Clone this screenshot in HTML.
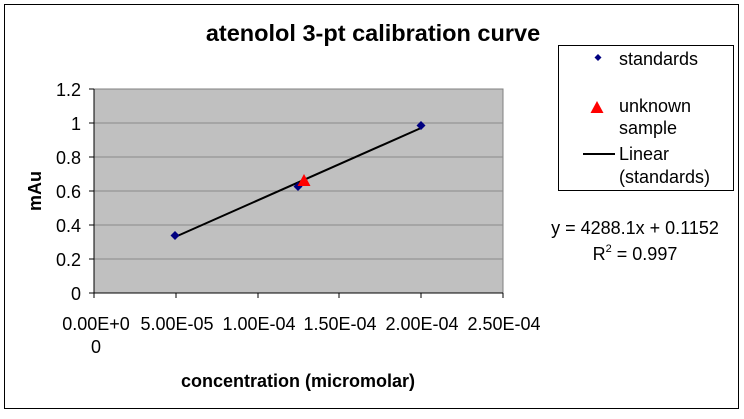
<!DOCTYPE html><html><head><style>body{margin:0;background:#fff;width:744px;height:414px;overflow:hidden}</style></head><body>
<svg width="744" height="414" xmlns="http://www.w3.org/2000/svg" font-family="Liberation Sans, sans-serif">
<rect x="0" y="0" width="744" height="414" fill="#fff"/>
<rect x="4.5" y="4.5" width="734" height="404" fill="none" stroke="#000" stroke-width="1"/>
<text x="373" y="41" font-size="23.5" font-weight="bold" text-anchor="middle">atenolol 3-pt calibration curve</text>
<rect x="94" y="89" width="409" height="204" fill="#c0c0c0" stroke="#808080"/>
<g stroke="#8a8a8a" stroke-width="1">
<line x1="94" y1="123" x2="503" y2="123"/><line x1="94" y1="157" x2="503" y2="157"/><line x1="94" y1="191" x2="503" y2="191"/><line x1="94" y1="225" x2="503" y2="225"/><line x1="94" y1="259" x2="503" y2="259"/></g>
<g stroke="#000"><line x1="94" y1="89" x2="94" y2="293"/><line x1="94" y1="293" x2="503" y2="293"/>
<line x1="89" y1="89" x2="94" y2="89"/><line x1="89" y1="123" x2="94" y2="123"/><line x1="89" y1="157" x2="94" y2="157"/><line x1="89" y1="191" x2="94" y2="191"/><line x1="89" y1="225" x2="94" y2="225"/><line x1="89" y1="259" x2="94" y2="259"/><line x1="89" y1="293" x2="94" y2="293"/>
<line x1="94" y1="293" x2="94" y2="298"/><line x1="176" y1="293" x2="176" y2="298"/><line x1="258" y1="293" x2="258" y2="298"/><line x1="339" y1="293" x2="339" y2="298"/><line x1="421" y1="293" x2="421" y2="298"/><line x1="503" y1="293" x2="503" y2="298"/></g>
<g font-size="18" text-anchor="end"><text x="81" y="96">1.2</text><text x="81" y="130">1</text><text x="81" y="164">0.8</text><text x="81" y="198">0.6</text><text x="81" y="232">0.4</text><text x="81" y="266">0.2</text><text x="81" y="300">0</text></g>
<g font-size="18" text-anchor="middle"><text x="96" y="330">0.00E+0</text><text x="96" y="353">0</text><text x="177" y="330">5.00E-05</text><text x="259" y="330">1.00E-04</text><text x="340" y="330">1.50E-04</text><text x="422" y="330">2.00E-04</text><text x="504" y="330">2.50E-04</text></g>
<text x="298" y="387" font-size="18" font-weight="bold" text-anchor="middle">concentration (micromolar)</text>
<text transform="translate(41,191) rotate(-90)" font-size="18" font-weight="bold" text-anchor="middle">mAu</text>
<line x1="175" y1="237" x2="421" y2="128" stroke="#000" stroke-width="2"/>
<g fill="#000080"><path d="M175,231 l4.5,4.5 l-4.5,4.5 l-4.5,-4.5z"/><path d="M298,182 l4.5,4.5 l-4.5,4.5 l-4.5,-4.5z"/><path d="M421,121 l4.5,4.5 l-4.5,4.5 l-4.5,-4.5z"/></g>
<path d="M304,174 l6.5,12 h-13z" fill="#f00"/>
<rect x="558.5" y="45.5" width="175" height="145" fill="#fff" stroke="#000"/>
<path d="M598,54 l3.5,3.5 l-3.5,3.5 l-3.5,-3.5z" fill="#000080"/>
<path d="M597,101 l6.5,12 h-13z" fill="#f00"/>
<line x1="583" y1="154" x2="615" y2="154" stroke="#000" stroke-width="2"/>
<g font-size="18"><text x="619" y="65">standards</text><text x="619" y="112">unknown</text><text x="619" y="134">sample</text><text x="619" y="160">Linear</text><text x="619" y="183">(standards)</text></g>
<text x="635" y="234" font-size="18" text-anchor="middle">y = 4288.1x + 0.1152</text>
<text x="635" y="260" font-size="18" text-anchor="middle">R<tspan font-size="11" dy="-8">2</tspan><tspan dy="8"> = 0.997</tspan></text>
</svg></body></html>
